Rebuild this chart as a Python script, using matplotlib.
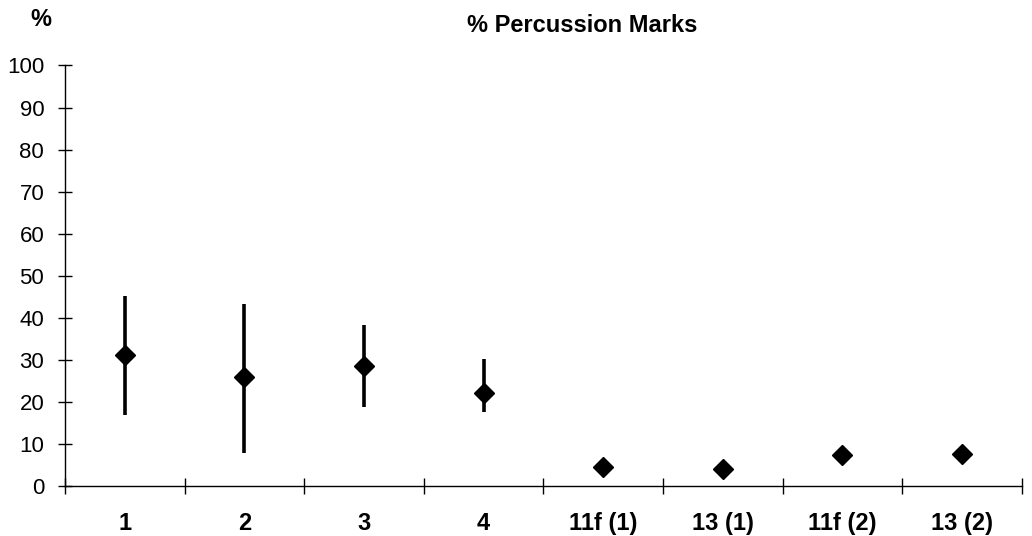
import numpy as np
import matplotlib.pyplot as plt

plt.rcParams['font.family'] = ['Liberation Sans', 'DejaVu Sans']

# data
categories = ["1", "2", "3", "4", "11f (1)", "13 (1)", "11f (2)", "13 (2)"]
mean_pct = [31.2, 26.0, 28.5, 22.0, 4.4, 4.0, 7.4, 7.6]
low_pct = [16.9, 7.9, 18.9, 17.7, 4.4, 4.0, 7.4, 7.6]
high_pct = [45.3, 43.2, 38.3, 30.2, 4.4, 4.0, 7.4, 7.6]

x = np.arange(1, len(categories) + 1)
mean_arr = np.array(mean_pct)
yerr = [mean_arr - np.array(low_pct), np.array(high_pct) - mean_arr]

fig = plt.figure(figsize=(10.32, 5.36), dpi=100)
ax = fig.add_axes([0.063, 0.0933, 0.927, 0.7845])

ax.errorbar(x, mean_pct, yerr=yerr, fmt='D', color='black', ms=10,
            elinewidth=2.6, capsize=0, zorder=3)

ax.set_xlim(0.5, len(categories) + 0.5)
ax.set_ylim(0, 100)
ax.set_yticks(range(0, 101, 10))
ax.set_xticks(x)
ax.set_xticklabels(categories, fontweight='bold')
ax.set_xticks(np.arange(0.5, len(categories) + 1, 1), minor=True)

for s in ['top', 'right']:
    ax.spines[s].set_visible(False)
for s in ['left', 'bottom']:
    ax.spines[s].set_linewidth(1.0)

ax.tick_params(axis='y', direction='inout', length=10, width=1.0, labelsize=16, pad=10)
ax.tick_params(axis='x', which='major', length=0, labelsize=17, pad=19)
ax.tick_params(axis='x', which='minor', direction='inout', length=12, width=1.0)

fig.text(582 / 1032, 1 - 26 / 536, "% Percussion Marks", ha='center', va='center',
         fontsize=17, fontweight='bold')
fig.text(41 / 1032, 1 - 20 / 536, "%", ha='center', va='center',
         fontsize=17, fontweight='bold')

fig.savefig('out.png', dpi=100)
